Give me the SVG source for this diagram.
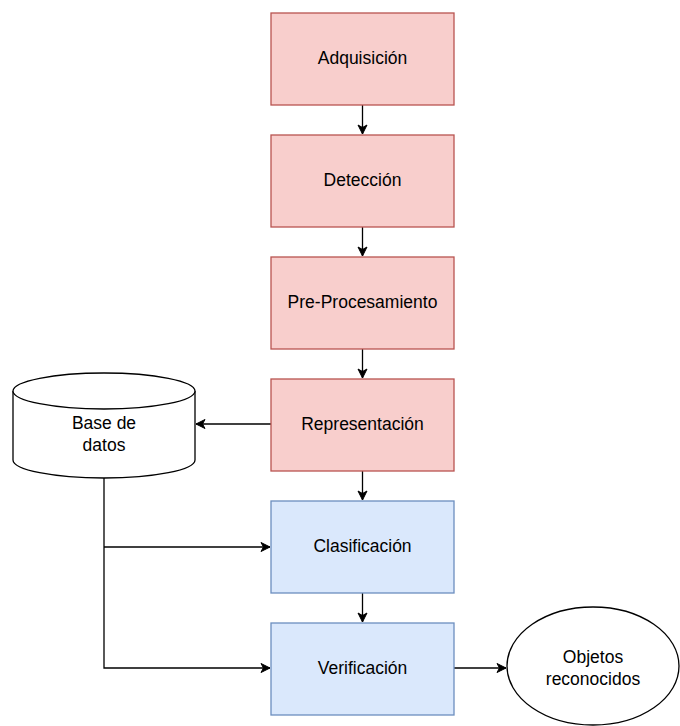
<svg xmlns="http://www.w3.org/2000/svg" width="680" height="726" viewBox="0 0 680 726">
  <style>
    .red { fill: #f8cecc; stroke: #b85450; stroke-width: 1.3; }
    .blue { fill: #dae8fc; stroke: #6c8ebf; stroke-width: 1.3; }
    .plain { fill: #ffffff; stroke: #000000; stroke-width: 1.3; }
    .lbl { font-family: "Liberation Sans", Arial, Helvetica, sans-serif; font-size: 17.5px; fill: #000000; text-anchor: middle; dominant-baseline: central; }
    .edge { fill: none; stroke: #000000; stroke-width: 1.3; }
  </style>
  <defs>
    <marker id="arrow" markerWidth="12" markerHeight="12" refX="10" refY="6" orient="auto" markerUnits="userSpaceOnUse">
      <path d="M1,1.5 L10,6 L1,10.5 L3.5,6 Z" fill="#000000" stroke="#000000" stroke-width="1"/>
    </marker>
  </defs>

  <!-- flow connectors -->
  <g id="connectors">
    <path class="edge" d="M362.5,105 V134" marker-end="url(#arrow)"/>
    <path class="edge" d="M362.5,227 V256" marker-end="url(#arrow)"/>
    <path class="edge" d="M362.5,349 V378" marker-end="url(#arrow)"/>
    <path class="edge" d="M362.5,471 V500" marker-end="url(#arrow)"/>
    <path class="edge" d="M362.5,593 V622" marker-end="url(#arrow)"/>
    <path class="edge" d="M271,424 H196" marker-end="url(#arrow)"/>
    <path class="edge" d="M104,478 V668 H270" marker-end="url(#arrow)"/>
    <path class="edge" d="M104,547 H270" marker-end="url(#arrow)"/>
    <path class="edge" d="M454,668 H506" marker-end="url(#arrow)"/>
  </g>

  <g id="adquisicion">
    <rect class="red" x="271" y="13" width="183" height="92"/>
    <text class="lbl" x="362.5" y="58">Adquisición</text>
  </g>
  <g id="deteccion">
    <rect class="red" x="271" y="135" width="183" height="92"/>
    <text class="lbl" x="362.5" y="180">Detección</text>
  </g>
  <g id="preprocesamiento">
    <rect class="red" x="271" y="257" width="183" height="92"/>
    <text class="lbl" x="362.5" y="302">Pre-Procesamiento</text>
  </g>
  <g id="representacion">
    <rect class="red" x="271" y="379" width="183" height="92"/>
    <text class="lbl" x="362.5" y="424">Representación</text>
  </g>
  <g id="clasificacion">
    <rect class="blue" x="271" y="501" width="183" height="92"/>
    <text class="lbl" x="362.5" y="546">Clasificación</text>
  </g>
  <g id="verificacion">
    <rect class="blue" x="271" y="623" width="183" height="92"/>
    <text class="lbl" x="362.5" y="668">Verificación</text>
  </g>

  <!-- database cylinder -->
  <g id="base-de-datos">
    <path class="plain" d="M13,391 A91,18 0 0 1 195,391 V460 A91,18 0 0 1 13,460 Z"/>
    <path class="plain" d="M13,391 A91,18 0 0 0 195,391" fill="none"/>
    <text class="lbl" x="104" y="423">Base de</text>
    <text class="lbl" x="104" y="445">datos</text>
  </g>

  <g id="objetos-reconocidos">
    <ellipse class="plain" cx="593" cy="666" rx="86" ry="59"/>
    <text class="lbl" x="593" y="657">Objetos</text>
    <text class="lbl" x="593" y="679">reconocidos</text>
  </g>
</svg>
